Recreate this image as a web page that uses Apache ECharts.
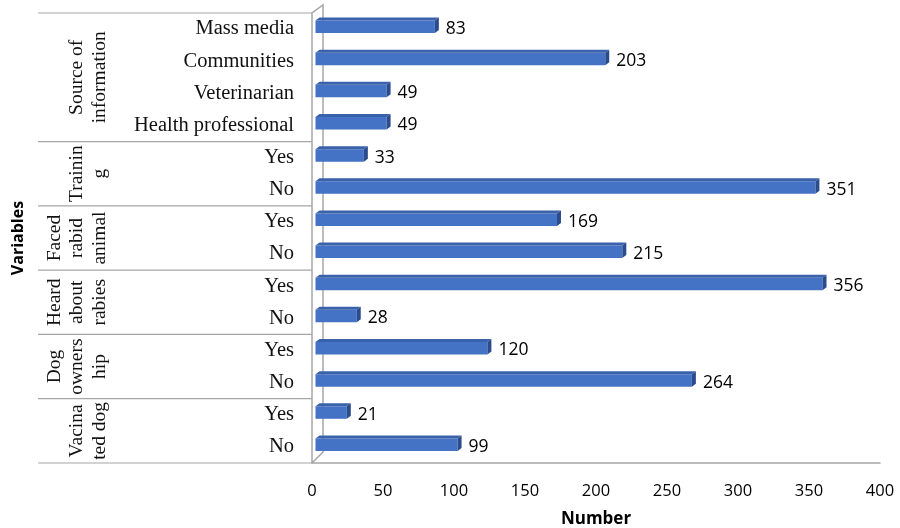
<!DOCTYPE html>
<html><head><meta charset="utf-8">
<script src="https://cdn.jsdelivr.net/npm/echarts@6/dist/echarts.min.js"></script>
<style>html,body{margin:0;padding:0;background:#fff}#c{width:900px;height:528px}</style>
</head><body><div id="c"></div>
<script>
// ---- data ----
const categories = ['Mass media','Communities','Veterinarian','Health professional','Yes','No','Yes','No','Yes','No','Yes','No','Yes','No'];
const values = [83,203,49,49,33,351,169,215,356,28,120,264,21,99];
const groupNames = ['Source of\ninformation','Trainin\ng','Faced\nrabid\nanimal','Heard\nabout\nrabies','Dog\nowners\nhip','Vacina\nted dog'];
const groupSizes = [4,2,2,2,2,2];
const xMin = 0, xMax = 400, xStep = 50;
const xTitle = 'Number', yTitle = 'Variables';

const chart = echarts.init(document.getElementById('c'), null, {renderer:'canvas'});
const serif = '"Liberation Serif","Times New Roman",serif';
const sans = '"Open Sans","Noto Sans",sans-serif';

chart.setOption({
  animation:false,
  backgroundColor:'#fff',
  grid:{left:312, right:20, top:13, bottom:65, containLabel:false, outerBoundsMode:'none'},
  xAxis:{
    type:'value', min:xMin, max:xMax, interval:xStep,
    name:xTitle, nameLocation:'middle', nameGap:48,
    nameTextStyle:{fontFamily:sans, fontWeight:'bold', fontSize:17, color:'#000'},
    axisLine:{show:true, lineStyle:{color:'#A6A6A6', width:1.5}},
    axisTick:{show:false}, splitLine:{show:false},
    axisLabel:{margin:20, fontFamily:sans, fontSize:16.5, color:'#000'}
  },
  yAxis:{
    type:'category', inverse:true, data:categories,
    name:yTitle, nameLocation:'middle', nameGap:286,
    nameTextStyle:{fontFamily:sans, fontWeight:'bold', fontSize:16, color:'#000'},
    axisLine:{show:false}, axisTick:{show:false}, splitLine:{show:false},
    axisLabel:{margin:18, fontFamily:serif, fontSize:20.5, color:'#111'}
  },
  series:[{
    type:'custom',
    data: values.map((v,i)=>[v,i]),
    encode:{x:0, y:1},
    renderItem:function(params, api){
      const v = api.value(0), idx = api.value(1);
      const p0 = api.coord([0, idx]), p1 = api.coord([v, idx]);
      const c = p0[1];
      const x0 = p0[0]+3.5, x1 = p1[0]+5;
      const ft = c-8.5, fb = c+4, d = 4, h = 3;
      return {type:'group', children:[
        {type:'rect', shape:{x:x0, y:ft, width:x1-x0, height:fb-ft}, style:{fill:'#4472C4'}},
        {type:'polygon', shape:{points:[[x0,ft],[x0+d,ft-h],[x1+d,ft-h],[x1,ft]]}, style:{fill:'#3A62AC'}},
        {type:'polygon', shape:{points:[[x1,ft],[x1+d,ft-h],[x1+d,fb-h],[x1,fb]]}, style:{fill:'#2B4C8C'}},
        {type:'text', style:{text:String(v), x:x1+d+7, y:c, align:'left', verticalAlign:'middle',
          fontFamily:sans, fontSize:17.5, fill:'#000'}}
      ]};
    }
  }]
});

// ---- table lines, wall and group labels, positioned from the axes ----
const cA = chart.convertToPixel({yAxisIndex:0}, 0);
const cB = chart.convertToPixel({yAxisIndex:0}, 1);
const band = cB - cA;
const topY = cA - band/2;
const gx = chart.convertToPixel({xAxisIndex:0}, xMin);
const bottomY = topY + band*categories.length;
const graphics = [];
const lineStyle = {stroke:'#A6A6A6', lineWidth:1.2};
const tableLeft = 38;
graphics.push({type:'line', shape:{x1:tableLeft, y1:topY, x2:gx, y2:topY}, style:lineStyle});
let start = 0;
groupNames.forEach((g, gi)=>{
  const n = groupSizes[gi];
  const yTop = topY + band*start, yBot = topY + band*(start+n);
  graphics.push({type:'line', shape:{x1:tableLeft, y1:yBot, x2:gx, y2:yBot}, style:lineStyle});
  graphics.push({type:'text', x:111, y:(yTop+yBot)/2, rotation:Math.PI/2,
    style:{text:g, align:'center', verticalAlign:'bottom', fontFamily:serif, fontSize:19.5, lineHeight:22.5, fill:'#111'}});
  start += n;
});
// 3D side wall
const dx = 11, dy = 8;
graphics.push({type:'polyline', shape:{points:[[gx,bottomY],[gx,topY],[gx+dx,topY-dy],[gx+dx,bottomY-dy-3],[gx,bottomY]]}, style:{stroke:'#A6A6A6', lineWidth:1.5, fill:null}});
chart.setOption({graphic:graphics});
</script>
</body></html>
